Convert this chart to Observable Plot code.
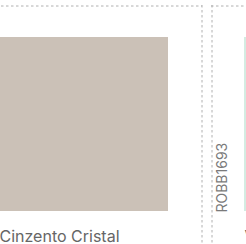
<!DOCTYPE html>
<html>
<head>
<meta charset="utf-8">
<script src="https://cdn.jsdelivr.net/npm/d3@7"></script>
<script src="https://cdn.jsdelivr.net/npm/@observablehq/plot@0.6"></script>
<style>
  html, body { margin: 0; padding: 0; background: #fff; overflow: hidden; }
  #chart svg { display: block; }
</style>
</head>
<body>
<div id="chart"></div>
<script>
// Data: colour swatch cards (visible part of a palette strip)
const names  = ["Cinzento Cristal", "Verde"];
const codes  = [null, "ROBB1693"];
const colors = ["#cbc1b7", "#d4ece2"];

const cards = names.map((name, i) => ({ i, name, code: codes[i], color: colors[i] }));

// Layout constants (pixel units of the page)
const W = 246, H = 244;
const pitch = 245, firstLeft = -34, cardW = 236;
const borderTop = 5, swTop = 37, swBot = 211, swOff = 33, swW = 169;
const cardLeft = d => firstLeft + d.i * pitch;

const chart = Plot.plot({
  width: W, height: H,
  margin: 0,
  x: { type: "linear", domain: [0, W], range: [0, W], axis: null },
  y: { type: "linear", domain: [0, H], range: [0, H], axis: null },
  style: { fontFamily: "Inter, sans-serif", background: "#fff" },
  marks: [
    Plot.ruleY(cards, { y: borderTop + 0.5, x1: d => cardLeft(d), x2: d => cardLeft(d) + cardW, stroke: "#b0b0b0", strokeWidth: 1, strokeDasharray: "2.5,2.5" }),
    Plot.ruleX(cards, { x: d => cardLeft(d) + 0.5, y1: borderTop, y2: H, stroke: "#b0b0b0", strokeWidth: 1, strokeDasharray: "2.5,2.5" }),
    Plot.ruleX(cards, { x: d => cardLeft(d) + cardW - 0.5, y1: borderTop, y2: H, stroke: "#b0b0b0", strokeWidth: 1, strokeDasharray: "2.5,2.5" }),
    Plot.rect(cards, { x1: d => cardLeft(d) + swOff, x2: d => cardLeft(d) + swOff + swW, y1: swTop, y2: swBot, fill: "color" }),
    Plot.text(cards.filter(d => d.code), { x: d => cardLeft(d) + 11, y: swBot + 1, text: "code", rotate: -90, textAnchor: "start", lineAnchor: "middle", fontSize: 14, fill: "#7a7a7a" }),
    Plot.text(cards, { x: d => cardLeft(d) + swOff, y: 236, text: "name", textAnchor: "start", lineAnchor: "middle", fontSize: 16, fill: "#666" })
  ]
});
document.getElementById("chart").appendChild(chart);
</script>
</body>
</html>
